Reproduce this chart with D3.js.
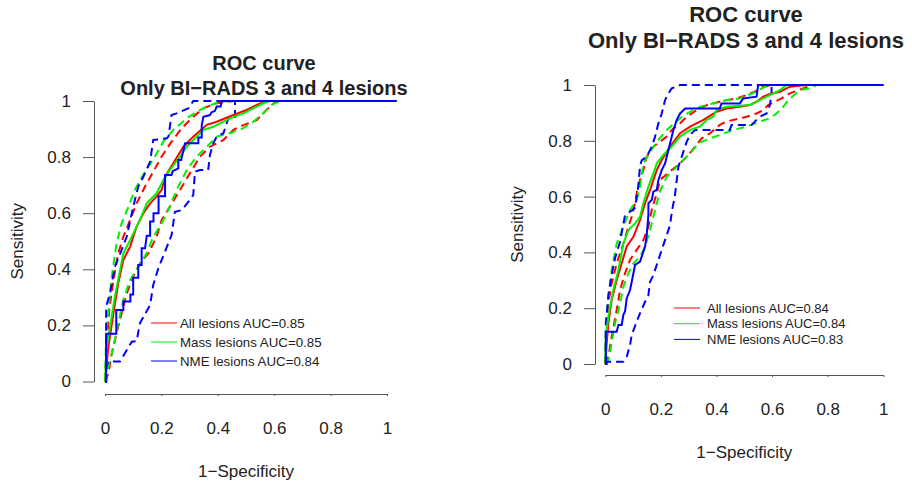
<!DOCTYPE html>
<html lang="en">
<head>
  <meta charset="UTF-8">
  <script src="https://cdnjs.cloudflare.com/ajax/libs/d3/7.8.5/d3.min.js"></script>
  <style>
    body { margin: 0; background: #fff; }
    svg text { font-family: "Liberation Sans", Arial, sans-serif; fill: #222; }
    .axis path, .axis line { stroke: #555; }
  </style>
  <title>ROC curve</title>
</head>
<body>
  <script>
    // tick values / labels shared by both panels
    const ticks = [0, 0.2, 0.4, 0.6, 0.8, 1];
    const tickLabels = ["0", "0.2", "0.4", "0.6", "0.8", "1"];
    const seriesColors = ["#ff0000", "#00f000", "#0000ff"];

    // left panel: [1-specificity, sensitivity]
    const aAll = [[0,0],[0.006,0.06],[0.012,0.124],[0.03,0.243],[0.047,0.35],[0.065,0.433],[0.089,0.481],[0.112,0.552],[0.136,0.6],[0.16,0.635],[0.183,0.659],[0.201,0.683],[0.213,0.73],[0.242,0.778],[0.278,0.837],[0.313,0.873],[0.361,0.915],[0.396,0.926],[0.455,0.95],[0.502,0.968],[0.538,0.986],[0.573,1],[1,1]];
    const aAllHi = [[0,0],[0.006,0.124],[0.015,0.255],[0.03,0.362],[0.047,0.457],[0.065,0.516],[0.089,0.576],[0.112,0.635],[0.142,0.695],[0.171,0.748],[0.201,0.802],[0.236,0.855],[0.272,0.903],[0.313,0.944],[0.349,0.974],[0.396,0.992],[0.455,1],[1,1]];
    const aAllLo = [[0,0],[0.012,0.029],[0.024,0.1],[0.041,0.172],[0.059,0.243],[0.077,0.314],[0.1,0.374],[0.124,0.421],[0.154,0.457],[0.183,0.516],[0.201,0.576],[0.23,0.623],[0.266,0.683],[0.301,0.742],[0.337,0.802],[0.372,0.837],[0.42,0.861],[0.455,0.897],[0.491,0.914],[0.538,0.932],[0.561,0.956],[0.585,0.98],[0.609,1],[1,1]];
    const aMass = [[0,0],[0.006,0.124],[0.018,0.196],[0.035,0.302],[0.065,0.457],[0.089,0.504],[0.124,0.576],[0.148,0.635],[0.183,0.671],[0.207,0.718],[0.23,0.754],[0.266,0.802],[0.29,0.837],[0.325,0.873],[0.349,0.897],[0.384,0.908],[0.443,0.938],[0.491,0.956],[0.538,0.98],[0.561,0.992],[0.585,1],[1,1]];
    const aMassHi = [[0,0],[0.004,0.172],[0.012,0.255],[0.024,0.374],[0.041,0.493],[0.059,0.564],[0.083,0.623],[0.106,0.683],[0.124,0.718],[0.154,0.766],[0.177,0.802],[0.207,0.855],[0.242,0.897],[0.29,0.938],[0.325,0.962],[0.361,0.98],[0.408,0.998],[0.443,1],[1,1]];
    const aMassLo = [[0,0],[0.012,0.053],[0.03,0.124],[0.047,0.207],[0.065,0.291],[0.089,0.362],[0.118,0.409],[0.148,0.457],[0.171,0.516],[0.201,0.564],[0.23,0.623],[0.254,0.683],[0.29,0.754],[0.325,0.802],[0.361,0.837],[0.396,0.873],[0.443,0.885],[0.491,0.903],[0.526,0.926],[0.561,0.956],[0.591,0.986],[0.621,1],[1,1]];
    const aNme = [[0,0],[0.004,0],[0.004,0.17],[0.04,0.17],[0.04,0.255],[0.065,0.255],[0.065,0.285],[0.09,0.285],[0.09,0.31],[0.1,0.31],[0.1,0.37],[0.118,0.37],[0.118,0.415],[0.13,0.415],[0.13,0.475],[0.142,0.475],[0.148,0.52],[0.16,0.52],[0.16,0.57],[0.172,0.57],[0.172,0.6],[0.19,0.6],[0.19,0.66],[0.213,0.66],[0.213,0.736],[0.236,0.736],[0.24,0.75],[0.26,0.76],[0.26,0.79],[0.27,0.79],[0.284,0.849],[0.331,0.849],[0.331,0.87],[0.343,0.87],[0.343,0.914],[0.349,0.944],[0.372,0.95],[0.378,0.96],[0.39,0.965],[0.396,0.98],[0.41,0.98],[0.414,1],[1.035,1]];
    const aNmeHi = [[0,0],[0.004,0],[0.004,0.267],[0.018,0.315],[0.035,0.409],[0.059,0.469],[0.077,0.516],[0.095,0.6],[0.106,0.647],[0.118,0.695],[0.136,0.73],[0.16,0.784],[0.171,0.861],[0.219,0.867],[0.225,0.873],[0.236,0.95],[0.254,0.956],[0.296,0.974],[0.313,1],[1,1]];
    const aNmeLo = [[0,0],[0.004,0],[0.004,0.05],[0.012,0.071],[0.053,0.071],[0.095,0.142],[0.112,0.144],[0.124,0.208],[0.16,0.273],[0.171,0.344],[0.189,0.403],[0.236,0.522],[0.248,0.605],[0.272,0.611],[0.296,0.641],[0.313,0.665],[0.319,0.748],[0.337,0.754],[0.366,0.754],[0.372,0.807],[0.384,0.849],[0.396,0.873],[0.42,0.885],[0.437,0.938],[0.461,0.938],[0.461,1],[1,1]];
    const legendA = ["All lesions AUC=0.85", "Mass lesions AUC=0.85", "NME lesions AUC=0.84"];

    // right panel
    const bAll = [[0,0],[0.005,0.074],[0.011,0.146],[0.023,0.229],[0.041,0.301],[0.059,0.361],[0.077,0.421],[0.101,0.456],[0.125,0.516],[0.143,0.576],[0.161,0.624],[0.185,0.695],[0.203,0.731],[0.233,0.779],[0.269,0.827],[0.305,0.851],[0.353,0.875],[0.4,0.904],[0.436,0.916],[0.484,0.922],[0.52,0.928],[0.544,0.94],[0.568,0.958],[0.592,0.968],[0.628,0.976],[0.664,0.994],[0.724,1],[1,1]];
    const bAllHi = [[0,0],[0.002,0.11],[0.011,0.217],[0.023,0.289],[0.041,0.361],[0.065,0.432],[0.083,0.492],[0.095,0.528],[0.107,0.576],[0.115,0.624],[0.125,0.66],[0.137,0.695],[0.149,0.743],[0.173,0.779],[0.221,0.815],[0.239,0.839],[0.269,0.863],[0.293,0.886],[0.329,0.91],[0.365,0.928],[0.412,0.94],[0.472,0.952],[0.508,0.964],[0.538,0.976],[0.568,0.994],[0.604,1],[1,1]];
    const bAllLo = [[0,0],[0.011,0.026],[0.023,0.098],[0.041,0.194],[0.053,0.265],[0.071,0.325],[0.089,0.373],[0.113,0.409],[0.137,0.444],[0.155,0.492],[0.167,0.552],[0.185,0.612],[0.197,0.66],[0.239,0.695],[0.269,0.719],[0.293,0.743],[0.323,0.779],[0.347,0.809],[0.377,0.827],[0.412,0.857],[0.436,0.869],[0.508,0.886],[0.544,0.898],[0.568,0.91],[0.586,0.928],[0.61,0.94],[0.634,0.952],[0.664,0.97],[0.712,0.988],[0.742,1],[1,1]];
    const bMass = [[0,0],[0.002,0.098],[0.011,0.17],[0.029,0.265],[0.047,0.337],[0.065,0.432],[0.083,0.48],[0.107,0.504],[0.125,0.528],[0.137,0.576],[0.155,0.636],[0.173,0.683],[0.185,0.719],[0.209,0.749],[0.239,0.779],[0.269,0.815],[0.305,0.839],[0.341,0.851],[0.365,0.875],[0.388,0.886],[0.4,0.91],[0.436,0.922],[0.52,0.928],[0.556,0.946],[0.592,0.964],[0.628,0.982],[0.652,1],[1,1]];
    const bMassHi = [[0,0],[0.002,0.146],[0.011,0.241],[0.023,0.337],[0.041,0.432],[0.065,0.492],[0.089,0.552],[0.113,0.588],[0.125,0.636],[0.13,0.67],[0.137,0.719],[0.16,0.76],[0.191,0.803],[0.221,0.839],[0.275,0.886],[0.305,0.904],[0.341,0.922],[0.388,0.934],[0.436,0.946],[0.484,0.952],[0.514,0.964],[0.544,0.976],[0.574,0.994],[0.604,1],[1,1]];
    const bMassLo = [[0,0],[0.011,0.014],[0.023,0.074],[0.035,0.146],[0.053,0.217],[0.065,0.277],[0.083,0.325],[0.101,0.361],[0.125,0.385],[0.143,0.421],[0.161,0.48],[0.173,0.528],[0.185,0.576],[0.197,0.62],[0.221,0.671],[0.281,0.731],[0.305,0.755],[0.335,0.791],[0.377,0.809],[0.412,0.821],[0.46,0.839],[0.508,0.851],[0.556,0.869],[0.592,0.881],[0.616,0.898],[0.64,0.922],[0.658,0.946],[0.7,0.982],[0.736,0.988],[0.76,1],[1,1]];
    const bNme = [[0,0],[0.002,0],[0.002,0.116],[0.041,0.116],[0.047,0.14],[0.059,0.14],[0.065,0.176],[0.071,0.188],[0.077,0.235],[0.089,0.265],[0.1,0.319],[0.107,0.355],[0.125,0.367],[0.131,0.385],[0.143,0.421],[0.149,0.462],[0.155,0.534],[0.155,0.576],[0.167,0.588],[0.173,0.618],[0.185,0.624],[0.191,0.659],[0.203,0.695],[0.215,0.719],[0.227,0.767],[0.233,0.791],[0.245,0.839],[0.257,0.875],[0.269,0.898],[0.287,0.916],[0.412,0.916],[0.418,0.934],[0.484,0.934],[0.496,0.952],[0.544,0.958],[0.55,1],[1,1]];
    const bNmeHi = [[0,0],[0.002,0],[0.002,0.146],[0.005,0.176],[0.011,0.247],[0.023,0.319],[0.035,0.379],[0.053,0.438],[0.071,0.534],[0.095,0.55],[0.107,0.56],[0.113,0.6],[0.119,0.64],[0.125,0.71],[0.131,0.73],[0.149,0.743],[0.167,0.779],[0.179,0.815],[0.191,0.863],[0.203,0.898],[0.215,0.946],[0.227,0.97],[0.239,0.988],[0.269,1],[1,1]];
    const bNmeLo = [[0,0],[0.005,0],[0.005,0.008],[0.065,0.008],[0.077,0.026],[0.089,0.068],[0.095,0.104],[0.113,0.152],[0.125,0.182],[0.143,0.223],[0.155,0.247],[0.161,0.295],[0.173,0.319],[0.185,0.355],[0.197,0.391],[0.209,0.427],[0.221,0.462],[0.233,0.498],[0.24,0.55],[0.25,0.6],[0.257,0.659],[0.263,0.707],[0.275,0.743],[0.293,0.797],[0.305,0.821],[0.323,0.839],[0.448,0.839],[0.454,0.857],[0.526,0.857],[0.544,0.875],[0.556,0.886],[0.58,0.898],[0.592,0.928],[0.598,0.97],[0.598,1],[1,1]];
    const legendB = ["All lesions AUC=0.84", "Mass lesions AUC=0.84", "NME lesions AUC=0.83"];

    const w = 912, h = 482;
    const svg = d3.select("body").append("svg").attr("width", w).attr("height", h);

    const panels = [
      { x: [105, 387], y: [381.5, 101], axisY: 394, axisX: 94, titleX: 264, titleY: [70, 95], titleSize: 20,
        xlabY: 477, ylabX: 23, legX: 151, legY: 323, legStep: 19, legFont: 13.3, legGap: 29,
        solid: [aAll, aMass, aNme], dashed: [[aAllHi, aAllLo], [aMassHi, aMassLo], [aNmeHi, aNmeLo]], legend: legendA },
      { x: [605.3, 883.3], y: [364, 85], axisY: 375, axisX: 595, titleX: 746, titleY: [22, 48], titleSize: 22,
        xlabY: 458, ylabX: 523, legX: 674, legY: 308, legStep: 15.7, legFont: 13, legGap: 33,
        solid: [bAll, bMass, bNme], dashed: [[bAllHi, bAllLo], [bMassHi, bMassLo], [bNmeHi, bNmeLo]], legend: legendB }
    ];

    panels.forEach(p => {
      const xScale = d3.scaleLinear().domain([0, 1]).range(p.x);
      const yScale = d3.scaleLinear().domain([0, 1]).range(p.y);
      const cx = (p.x[0] + p.x[1]) / 2;

      const xAxis = svg.append("g")
        .attr("class", "axis")
        .attr("transform", "translate(0," + p.axisY + ")")
        .call(d3.axisBottom(xScale).tickValues(ticks).tickFormat((d, i) => tickLabels[i])
          .tickSize(2).tickSizeOuter(0).tickPadding(26));
      xAxis.selectAll("text").style("font-size", "17px").attr("fill", "#222");

      const yAxis = svg.append("g")
        .attr("class", "axis")
        .attr("transform", "translate(" + p.axisX + ",0)")
        .call(d3.axisLeft(yScale).tickValues(ticks).tickFormat((d, i) => tickLabels[i])
          .tickSize(11).tickSizeOuter(0).tickPadding(12));
      yAxis.selectAll("text").style("font-size", "17px").attr("fill", "#222");

      const line = d3.line().x(d => xScale(d[0])).y(d => yScale(d[1]));

      seriesColors.forEach((c, i) => {
        p.dashed[i].forEach(ci => {
          svg.append("path").datum(ci)
            .attr("d", line).attr("fill", "none")
            .attr("stroke", c).attr("stroke-width", 2)
            .attr("stroke-dasharray", "8,5");
        });
      });
      seriesColors.forEach((c, i) => {
        svg.append("path").datum(p.solid[i])
          .attr("d", line).attr("fill", "none")
          .attr("stroke", c).attr("stroke-width", 2);
      });

      // titles
      svg.append("text").attr("x", p.titleX).attr("y", p.titleY[0])
        .attr("text-anchor", "middle").style("font-size", p.titleSize + "px")
        .style("font-weight", "bold").text("ROC curve");
      svg.append("text").attr("x", p.titleX).attr("y", p.titleY[1])
        .attr("text-anchor", "middle").style("font-size", p.titleSize + "px")
        .style("font-weight", "bold").text("Only BI\u2212RADS 3 and 4 lesions");

      svg.append("text").attr("x", cx).attr("y", p.xlabY)
        .attr("text-anchor", "middle").style("font-size", "17px")
        .text("1\u2212Specificity");
      svg.append("text")
        .attr("transform", "translate(" + p.ylabX + "," + ((p.y[0] + p.y[1]) / 2) + ") rotate(-90)")
        .attr("text-anchor", "middle").style("font-size", "17px")
        .text("Sensitivity");

      // legend
      p.legend.forEach((t, i) => {
        const ly = p.legY + i * p.legStep;
        svg.append("line").attr("x1", p.legX).attr("x2", p.legX + 26)
          .attr("y1", ly).attr("y2", ly)
          .attr("stroke", seriesColors[i]).attr("stroke-width", 1);
        svg.append("text").attr("x", p.legX + p.legGap).attr("y", ly)
          .attr("dy", "0.35em").style("font-size", p.legFont + "px").text(t);
      });
    });
  </script>
</body>
</html>
